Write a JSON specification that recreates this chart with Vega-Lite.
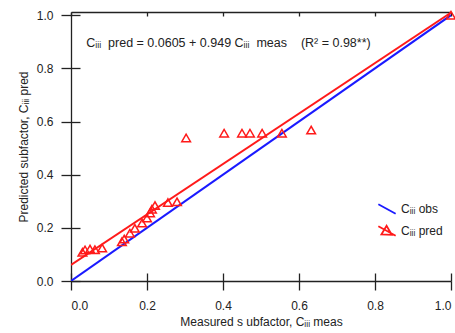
{
  "$schema": "https://vega.github.io/schema/vega-lite/v6.json",
  "width": 380,
  "height": 269,
  "autosize": {"type": "none"},
  "padding": {"left": 71, "top": 12, "right": 4, "bottom": 52},
  "background": "white",
  "config": {
    "view": {"stroke": null},
    "font": "Liberation Sans",
    "axis": {"grid": false, "labelFont": "Liberation Sans", "titleFont": "Liberation Sans", "labelFontSize": 12, "titleFontSize": 12, "titleFontWeight": "normal", "labelColor": "#222", "titleColor": "#222", "domainColor": "#222", "tickColor": "#222", "domainWidth": 1.3, "tickWidth": 1.3}
  },
  "datasets": {
    "lines": [
      {"series": "Cᵢᵢᵢ obs", "x": 0, "y": 0},
      {"series": "Cᵢᵢᵢ obs", "x": 1, "y": 1},
      {"series": "Cᵢᵢᵢ pred", "x": 0, "y": 0.0605},
      {"series": "Cᵢᵢᵢ pred", "x": 1, "y": 1.0095}
    ],
    "pts": [
      {"x": 0.03, "y": 0.108},
      {"x": 0.037, "y": 0.117},
      {"x": 0.05, "y": 0.12},
      {"x": 0.063, "y": 0.118},
      {"x": 0.082, "y": 0.124},
      {"x": 0.134, "y": 0.148},
      {"x": 0.14, "y": 0.158},
      {"x": 0.155, "y": 0.18},
      {"x": 0.168, "y": 0.198},
      {"x": 0.187, "y": 0.218},
      {"x": 0.2, "y": 0.237},
      {"x": 0.208, "y": 0.256},
      {"x": 0.213, "y": 0.27},
      {"x": 0.221, "y": 0.284},
      {"x": 0.255, "y": 0.295},
      {"x": 0.279, "y": 0.298},
      {"x": 0.303, "y": 0.538},
      {"x": 0.403, "y": 0.556},
      {"x": 0.45, "y": 0.556},
      {"x": 0.471, "y": 0.556},
      {"x": 0.503, "y": 0.556},
      {"x": 0.555, "y": 0.556},
      {"x": 0.632, "y": 0.568},
      {"x": 1.0, "y": 1.0}
    ]
  },
  "resolve": {"axis": {"x": "independent", "y": "independent"}},
  "layer": [
    {
      "data": {"name": "lines"},
      "mark": {"type": "line", "strokeWidth": 2, "clip": true},
      "encoding": {
        "x": {"field": "x", "type": "quantitative", "scale": {"domain": [0, 1], "nice": false},
          "axis": {"orient": "bottom", "values": [0, 0.2, 0.4, 0.6, 0.8, 1.0], "format": ".1f", "tickSize": 9, "labelPadding": 10, "title": "Measured s ubfactor, Cᵢᵢᵢ meas", "titlePadding": 5}},
        "y": {"field": "y", "type": "quantitative", "scale": {"domain": [0, 1.012], "nice": false},
          "axis": {"orient": "left", "values": [0, 0.2, 0.4, 0.6, 0.8, 1.0], "format": ".1f", "tickSize": 10, "labelPadding": 8, "title": "Predicted subfactor, Cᵢᵢᵢ pred", "titlePadding": 6}},
        "color": {"field": "series", "type": "nominal",
          "scale": {"domain": ["Cᵢᵢᵢ obs", "Cᵢᵢᵢ pred"], "range": ["#1a1aff", "#ff1a1a"]},
          "legend": {"orient": "none", "legendX": 306, "legendY": 187, "title": null, "labelFontSize": 12, "labelColor": "#222", "labelFont": "Liberation Sans", "symbolSize": 300, "symbolStrokeWidth": 1.8, "rowPadding": 3, "labelOffset": 4,
            "encode": {"symbols": {"update": {"shape": {"signal": "datum.value === 'Cᵢᵢᵢ pred' ? 'M-1,-0.55L1,0.55M-0.65,0.4L-0.05,-0.6L0.55,0.45Z' : 'M-1,-0.55L1,0.55'"}, "fill": {"value": "transparent"}}}}}}
      }
    },
    {
      "data": {"name": "pts"},
      "mark": {"type": "point", "shape": "triangle-up", "size": 75, "stroke": "#ff1a1a", "strokeWidth": 1.5, "filled": false, "opacity": 1},
      "encoding": {
        "x": {"field": "x", "type": "quantitative", "axis": {"orient": "top", "values": [0, 0.2, 0.4, 0.6, 0.8, 1.0], "labels": false, "title": null, "tickSize": -4}},
        "y": {"field": "y", "type": "quantitative", "axis": {"orient": "left", "values": [0, 0.2, 0.4, 0.6, 0.8, 1.0], "labels": false, "title": null, "tickSize": -9, "domain": false}}
      }
    },
    {
      "data": {"values": [{}]},
      "mark": {"type": "text", "align": "left", "baseline": "middle", "fontSize": 12.5, "font": "Liberation Sans", "color": "#222"},
      "encoding": {
        "x": {"datum": 0.04, "type": "quantitative", "axis": {"orient": "bottom", "values": [0, 0.2, 0.4, 0.6, 0.8, 1.0], "labels": false, "title": null, "tickSize": -8, "domain": false}},
        "y": {"datum": 0.895, "type": "quantitative", "axis": null},
        "text": {"value": "Cᵢᵢᵢ\u00a0 pred = 0.0605 + 0.949 Cᵢᵢᵢ\u00a0 meas\u00a0\u00a0\u00a0\u00a0(R² = 0.98**)"}
      }
    }
  ]
}
